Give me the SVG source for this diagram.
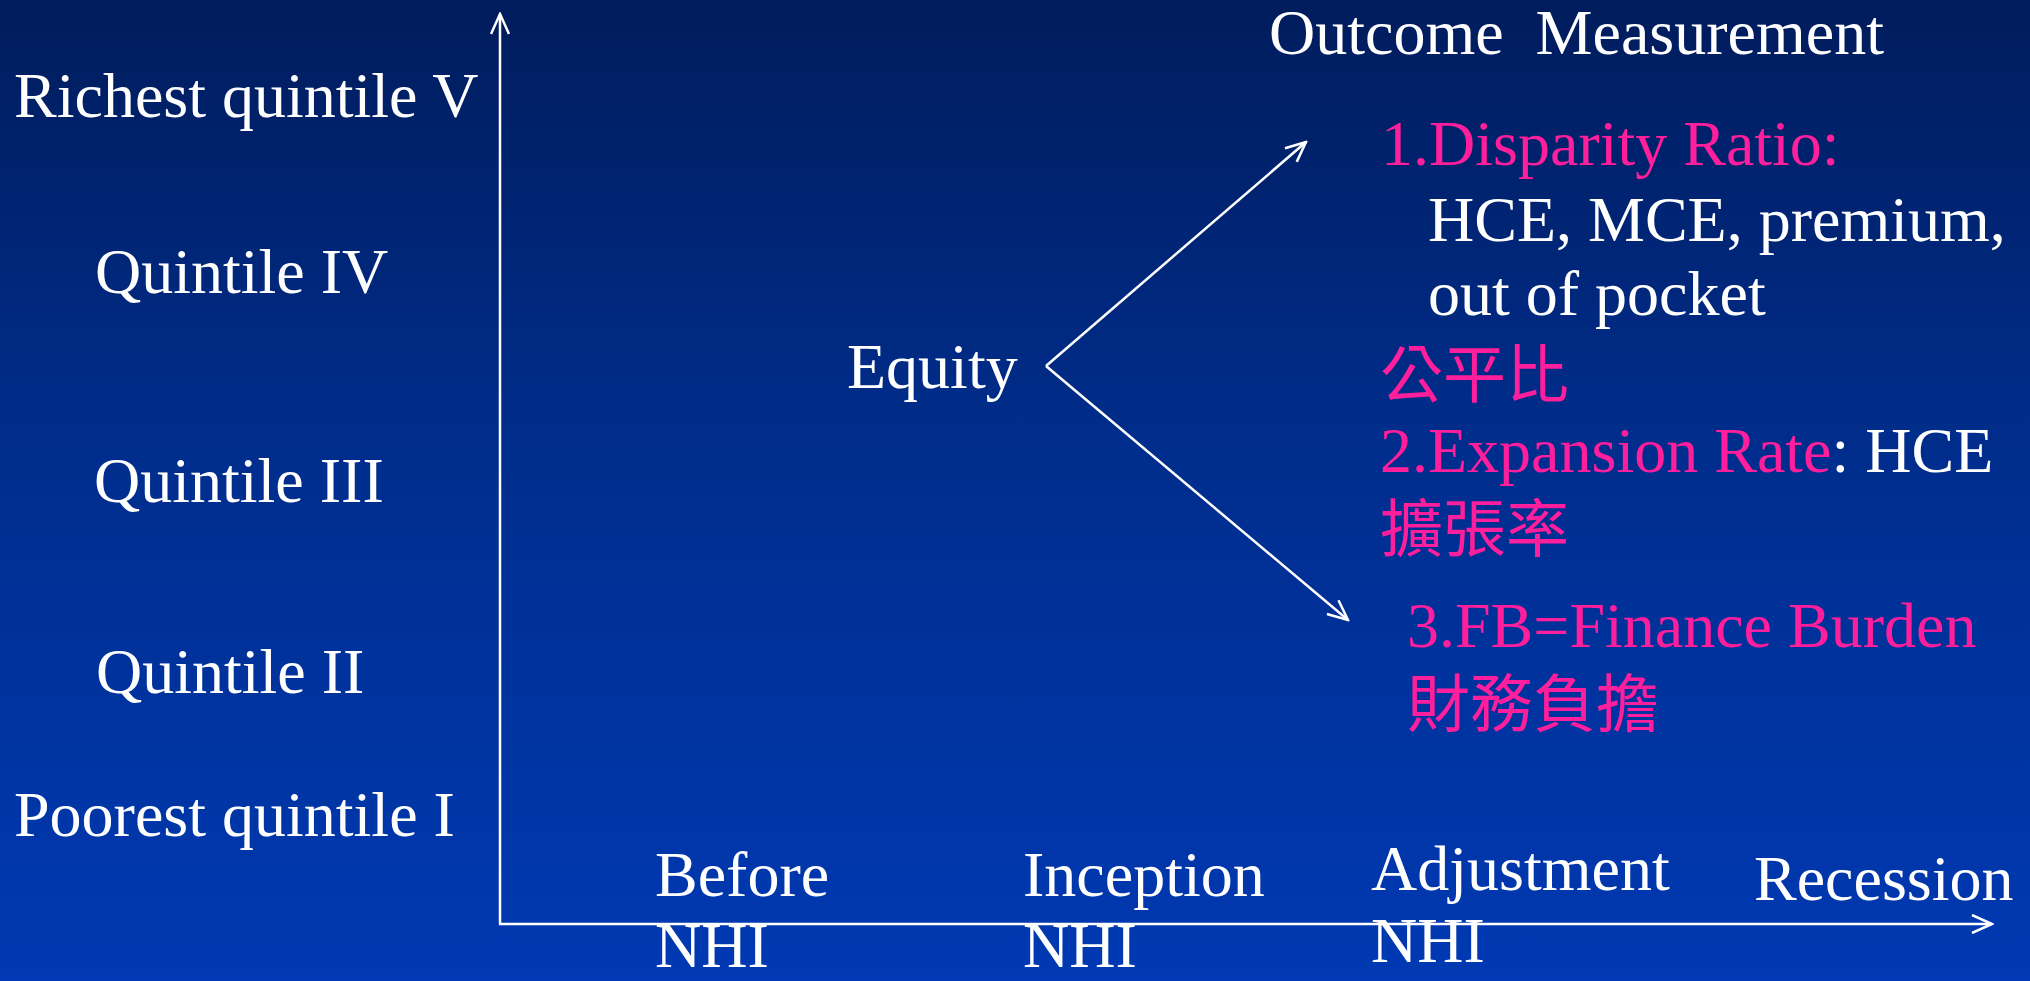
<svg xmlns="http://www.w3.org/2000/svg" width="2030" height="981" viewBox="0 0 2030 981">
  <defs>
    <linearGradient id="bg" x1="0" y1="0" x2="0" y2="1">
      <stop offset="0" stop-color="#001c5c"/>
      <stop offset="0.45" stop-color="#002d8c"/>
      <stop offset="1" stop-color="#0039b3"/>
    </linearGradient>
    <marker id="open-arrow" viewBox="0 0 24 20" refX="22" refY="10" markerWidth="24" markerHeight="20" markerUnits="userSpaceOnUse" orient="auto">
      <path d="M2,1 L22,10 L2,19" fill="none" stroke="#ffffff" stroke-width="2.5"/>
    </marker>
    <style>
      .t { font-family: "Liberation Serif", "Times New Roman", serif; font-size: 64px; fill: #ffffff; }
      .pk { fill: #ff1e9c; }
      .cjk { font-family: "Liberation Serif", "Noto Sans CJK TC", serif; font-size: 63px; fill: #ff1e9c; }
      .ln { stroke: #ffffff; stroke-width: 2.5; fill: none; }
    </style>
  </defs>

  <rect x="0" y="0" width="2030" height="981" fill="url(#bg)"/>

  <!-- axes and branch arrows -->
  <g id="connectors">
    <line class="ln" x1="500" y1="924" x2="500" y2="14" marker-end="url(#open-arrow)"/>
    <line class="ln" x1="499" y1="924" x2="1992" y2="924" marker-end="url(#open-arrow)"/>
    <line class="ln" x1="1046" y1="366" x2="1306" y2="142" marker-end="url(#open-arrow)"/>
    <line class="ln" x1="1046" y1="366" x2="1348" y2="620" marker-end="url(#open-arrow)"/>
  </g>

  <!-- income quintiles (vertical axis) -->
  <g id="quintile-5"><text class="t" x="14" y="117">Richest quintile V</text></g>
  <g id="quintile-4"><text class="t" x="95" y="293">Quintile IV</text></g>
  <g id="quintile-3"><text class="t" x="94" y="502">Quintile III</text></g>
  <g id="quintile-2"><text class="t" x="96" y="693">Quintile II</text></g>
  <g id="quintile-1"><text class="t" x="14" y="836">Poorest quintile I</text></g>

  <!-- NHI phases (horizontal axis) -->
  <g id="phase-before">
    <text class="t" x="655" y="896">Before</text>
    <text class="t" x="655" y="967">NHI</text>
  </g>
  <g id="phase-inception">
    <text class="t" x="1023" y="896">Inception</text>
    <text class="t" x="1023" y="967">NHI</text>
  </g>
  <g id="phase-adjustment">
    <text class="t" x="1371" y="890">Adjustment</text>
    <text class="t" x="1371" y="962">NHI</text>
  </g>
  <g id="phase-recession">
    <text class="t" x="1754" y="900">Recession</text>
  </g>

  <!-- centre node -->
  <g id="equity"><text class="t" x="847" y="388">Equity</text></g>

  <!-- outcome measures -->
  <g id="outcome-title"><text class="t" x="1269" y="54" xml:space="preserve">Outcome  Measurement</text></g>
  <g id="disparity-ratio">
    <text class="t pk" x="1381" y="165">1.Disparity Ratio:</text>
    <text class="t" x="1428" y="241">HCE, MCE, premium,</text>
    <text class="t" x="1428" y="315">out of pocket</text>
    <text class="cjk" x="1380" y="397">公平比</text>
  </g>
  <g id="expansion-rate">
    <text class="t" x="1380" y="472"><tspan class="pk">2.Expansion Rate</tspan>: HCE</text>
    <text class="cjk" x="1380" y="551">擴張率</text>
  </g>
  <g id="finance-burden">
    <text class="t pk" x="1407" y="647">3.FB=Finance Burden</text>
    <text class="cjk" x="1407" y="726">財務負擔</text>
  </g>
</svg>
